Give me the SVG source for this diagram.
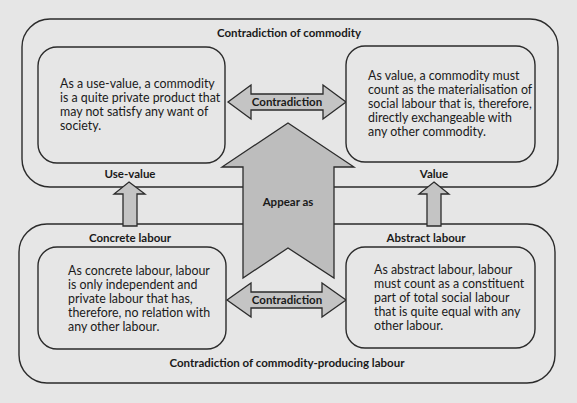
<svg xmlns="http://www.w3.org/2000/svg" width="577" height="403" viewBox="0 0 577 403">
<style>
.box{fill:#e6e6e6;stroke:#2b2b2b;stroke-width:1.4}
.arr{fill:#c4c4c4;stroke:#2b2b2b;stroke-width:1.3;stroke-linejoin:miter}
.big{fill:#bdbdbd}
text{font-family:Lato,"Liberation Sans",sans-serif;fill:#1a1a1a}
.b{font-weight:bold;font-size:11.5px;text-anchor:middle}
.t{font-size:12.4px}
</style>
<rect width="577" height="403" fill="#e6e6e6"/>
<g id="commodity">
<rect class="box" x="22" y="19" width="536" height="168" rx="28"/>
<text class="b" x="289" y="37">Contradiction of commodity</text>
</g>
<g id="labour">
<rect class="box" x="19" y="224" width="536" height="159" rx="28"/>
<text class="b" x="287" y="367">Contradiction of commodity-producing labour</text>
</g>
<g id="connectors">
<path class="arr" d="M129,182 L145,194 L137,194 L137,226 L123,226 L123,194 L114,194 Z"/>
<path class="arr" d="M434,182 L449,194 L441,194 L441,226 L427,226 L427,194 L419,194 Z"/>
<path class="arr" d="M228,102 L251,85 L251,94 L323,94 L323,85 L346,102 L323,119 L323,110 L251,110 L251,119 Z"/>
<text class="b" x="287" y="106">Contradiction</text>
<path class="arr" d="M227,300 L251,283 L251,292 L322,292 L322,283 L346,300 L322,317 L322,308 L251,308 L251,317 Z"/>
<text class="b" x="287" y="304">Contradiction</text>
<path class="arr big" d="M288,123 L354,167 L334,167 L334,278 L288,248 L243,278 L243,167 L222,167 Z"/>
<text class="b" x="288" y="206">Appear as</text>
</g>
<g id="use-value">
<rect class="box" x="38" y="47" width="187" height="116" rx="19"/>
<text class="t" x="60" y="88">As a use-value, a commodity</text>
<text class="t" x="60" y="102">is a quite private product that</text>
<text class="t" x="60" y="116">may not satisfy any want of</text>
<text class="t" x="60" y="130">society.</text>
<text class="b" x="130" y="178">Use-value</text>
</g>
<g id="value">
<rect class="box" x="346" y="46" width="189" height="116" rx="19"/>
<text class="t" x="368" y="80">As value, a commodity must</text>
<text class="t" x="368" y="94">count as the materialisation of</text>
<text class="t" x="368" y="108">social labour that is, therefore,</text>
<text class="t" x="368" y="122">directly exchangeable with</text>
<text class="t" x="368" y="136">any other commodity.</text>
<text class="b" x="434" y="178">Value</text>
</g>
<g id="concrete">
<text class="b" x="130" y="242">Concrete labour</text>
<rect class="box" x="38" y="247" width="188" height="102" rx="19"/>
<text class="t" x="68" y="275">As concrete labour, labour</text>
<text class="t" x="68" y="289">is only independent and</text>
<text class="t" x="68" y="303">private labour that has,</text>
<text class="t" x="68" y="317">therefore, no relation with</text>
<text class="t" x="68" y="331">any other labour.</text>
</g>
<g id="abstract">
<text class="b" x="426" y="242">Abstract labour</text>
<rect class="box" x="346" y="247" width="189" height="101" rx="19"/>
<text class="t" x="374" y="274">As abstract labour, labour</text>
<text class="t" x="374" y="288">must count as a constituent</text>
<text class="t" x="374" y="302">part of total social labour</text>
<text class="t" x="374" y="316">that is quite equal with any</text>
<text class="t" x="374" y="330">other labour.</text>
</g>
</svg>
